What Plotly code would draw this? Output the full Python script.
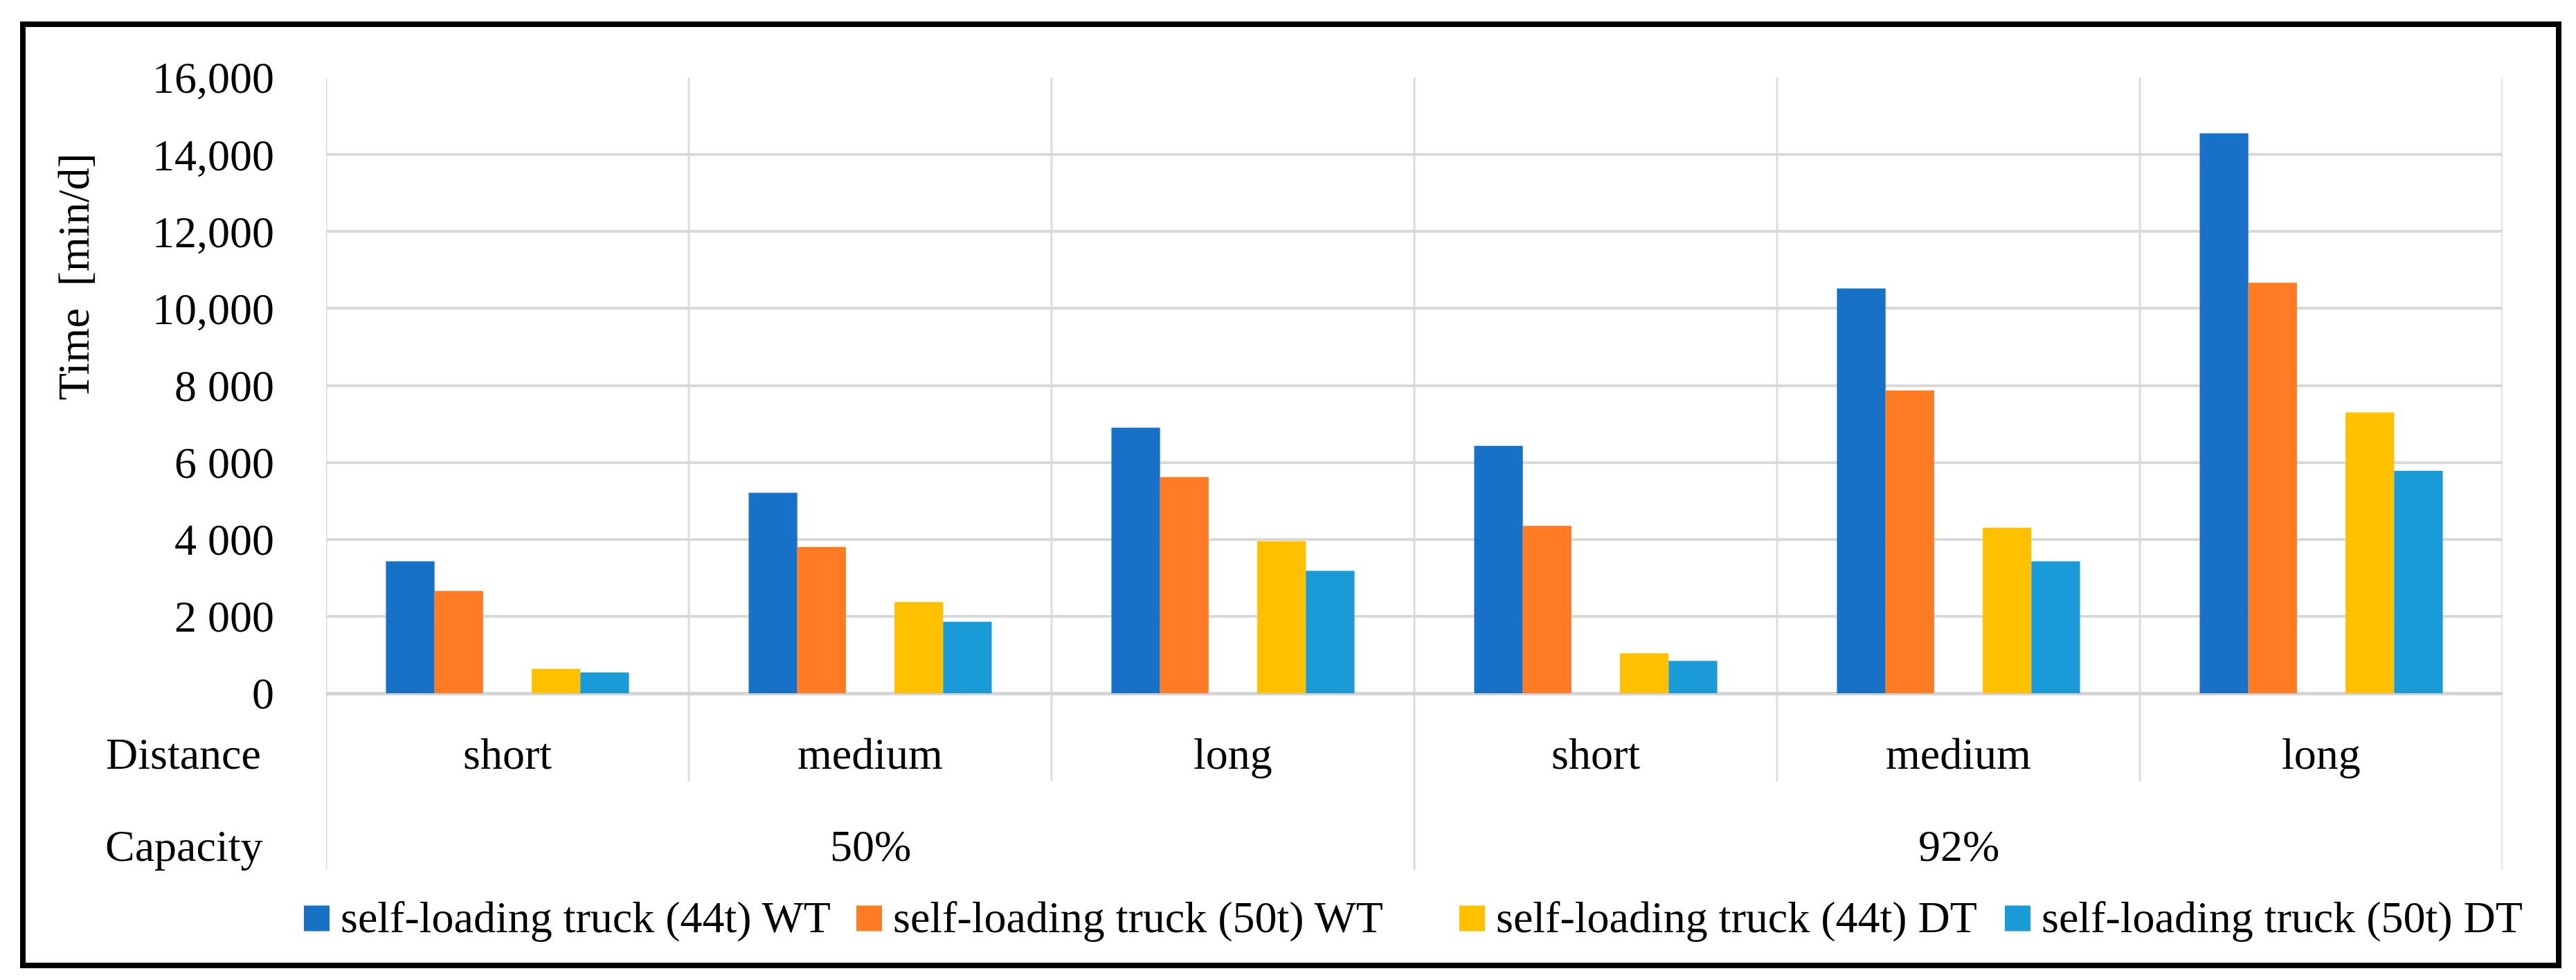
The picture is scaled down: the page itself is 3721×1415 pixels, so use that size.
import plotly.graph_objects as go

# ---------------- data ----------------
distance = ["short", "medium", "long", "short", "medium", "long"]
capacity = ["50%", "50%", "50%", "92%", "92%", "92%"]
series_names = [
    "self-loading truck (44t) WT",
    "self-loading truck (50t) WT",
    "self-loading truck (44t) DT",
    "self-loading truck (50t) DT",
]
wt44 = [3430, 5210, 6900, 6430, 10520, 14550]
wt50 = [2660, 3800, 5620, 4350, 7870, 10670]
dt44 = [630, 2370, 3950, 1040, 4300, 7300]
dt50 = [540, 1860, 3180, 840, 3430, 5780]
ytick_vals = [0, 2000, 4000, 6000, 8000, 10000, 12000, 14000, 16000]
ytick_text = ["0", "2 000", "4 000", "6 000", "8 000", "10,000", "12,000", "14,000", "16,000"]

# ---------------- style / layout ----------------
colors = ["#1771C7", "#FF7C24", "#FFC000", "#1A9BD7"]
slots = [0, 1, 3, 4]          # slot 2 is an empty spacer (as in the original)
n_slots = 5
bargap = 0.33
FONT = "Liberation Serif"
FS = 64
W, H = 3721, 1415
L, R, T, B = 463, 3607, 104, 993   # plot-area pixel box


def px_x(X):
    return (X - L) / (R - L)


def px_y(Y):
    return (B - Y) / (B - T)


values = [wt44, wt50, dt44, dt50]
xs = list(range(len(distance)))
slot_w = (1 - bargap) / n_slots

fig = go.Figure()
for name, vals, col, k in zip(series_names, values, colors, slots):
    fig.add_trace(go.Bar(
        x=xs, y=vals, name=name,
        marker=dict(color=col, line=dict(width=0)),
        width=slot_w,
        offset=-(1 - bargap) / 2 + k * slot_w,
        showlegend=False,
    ))

shapes = []
annotations = []
grid_col = "#D9D9D9"

# vertical dividers between categories (extending into the label rows)
for i in range(len(distance) + 1):
    is_group_edge = (i == 0 or i == len(distance) or capacity[i] != capacity[i - 1])
    y_bottom = px_y(1248) if is_group_edge else px_y(1120)
    shapes.append(dict(type="line", xref="x", yref="paper",
                       x0=i - 0.5, x1=i - 0.5, y0=y_bottom, y1=1,
                       line=dict(color="#DCDCDC", width=3), layer="below"))

# distance labels
for i, d in enumerate(distance):
    annotations.append(dict(x=i, y=px_y(1080), xref="x", yref="paper", text=d,
                            showarrow=False, xanchor="center", yanchor="middle",
                            font=dict(family=FONT, size=FS, color="black")))
# capacity labels (centered on each group)
groups = []
for i, c in enumerate(capacity):
    if groups and groups[-1][0] == c:
        groups[-1][1].append(i)
    else:
        groups.append((c, [i]))
for c, idx in groups:
    annotations.append(dict(x=sum(idx) / len(idx), y=px_y(1213), xref="x", yref="paper",
                            text=c, showarrow=False, xanchor="center", yanchor="middle",
                            font=dict(family=FONT, size=FS, color="black")))

# row headers
for txt, yy in [("Distance", 1080), ("Capacity", 1213)]:
    annotations.append(dict(x=px_x(257), y=px_y(yy), xref="paper", yref="paper",
                            text=txt, showarrow=False, xanchor="center", yanchor="middle",
                            font=dict(family=FONT, size=FS, color="black")))

# y-axis title
annotations.append(dict(x=px_x(99), y=px_y(392), xref="paper", yref="paper",
                        text="Time\u00a0 [min/d]", textangle=-90, showarrow=False,
                        xanchor="center", yanchor="middle",
                        font=dict(family=FONT, size=FS, color="black")))

# custom legend (large square swatches)
legend_x = [431, 1229, 2100, 2888]
sq = 37
leg_y = 1318
for name, col, lx in zip(series_names, colors, legend_x):
    shapes.append(dict(type="rect", xref="paper", yref="paper",
                       x0=px_x(lx), x1=px_x(lx + sq),
                       y0=px_y(leg_y + sq / 2), y1=px_y(leg_y - sq / 2),
                       fillcolor=col, line=dict(width=0)))
    annotations.append(dict(x=px_x(lx + sq + 14), y=px_y(leg_y - 2), xref="paper", yref="paper",
                            text=name, showarrow=False, xanchor="left", yanchor="middle",
                            font=dict(family=FONT, size=FS, color="black")))

# outer frame
shapes.append(dict(type="rect", xref="paper", yref="paper",
                   x0=px_x(25), x1=px_x(3688), y0=px_y(1386), y1=px_y(27),
                   line=dict(color="black", width=8), fillcolor="rgba(0,0,0,0)"))

fig.update_layout(
    width=W, height=H,
    margin=dict(l=L, r=W - R, t=T, b=H - B, autoexpand=False),
    paper_bgcolor="white", plot_bgcolor="white",
    barmode="overlay",
    showlegend=False,
    font=dict(family=FONT, size=FS, color="black"),
    shapes=shapes, annotations=annotations,
    xaxis=dict(range=[-0.5, len(distance) - 0.5], showticklabels=False,
               showgrid=False, zeroline=False, showline=False, fixedrange=True),
    yaxis=dict(range=[0, 16000], tickvals=ytick_vals, ticktext=ytick_text,
               showgrid=True, gridcolor=grid_col, gridwidth=4,
               zeroline=True, zerolinecolor="#D4D4D4", zerolinewidth=5,
               showline=False, ticks="", ticklabelstandoff=74,
               tickfont=dict(family=FONT, size=FS, color="black"), fixedrange=True),
)

fig.write_html("out.html")
